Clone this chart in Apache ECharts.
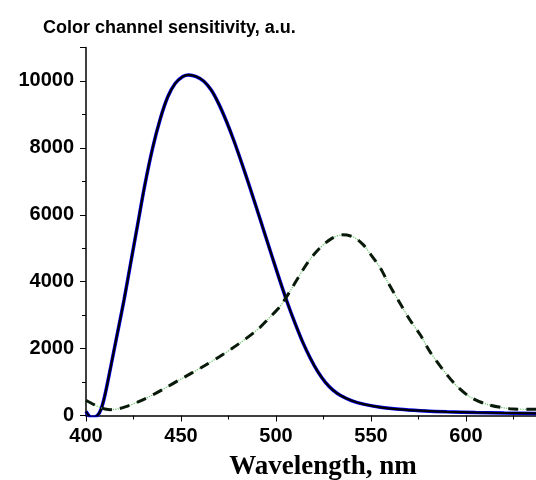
<!DOCTYPE html>
<html>
<head>
<meta charset="utf-8">
<script src="https://cdn.jsdelivr.net/npm/echarts@6/dist/echarts.min.js"></script>
<style>
    html, body { margin: 0; padding: 0; background: #fff; }
    #chart { width: 536px; height: 480px; }
</style>
</head>
<body>
<div id="chart"></div>
<script>
// blue channel
const blueWl = [400, 403, 406, 408, 410, 413, 416.5, 420, 423.5, 427, 431, 435, 439, 443, 447, 451, 454, 458, 462, 466, 470, 474, 478, 482, 486, 490, 494, 498, 502, 506, 510, 514, 518, 522, 526, 530, 534, 540, 546, 555, 565, 576, 590, 605, 620, 640]
const blueVal = [120, -60, 0, 200, 620, 1450, 2450, 3450, 4550, 5650, 6900, 7980, 8850, 9520, 9930, 10130, 10180, 10130, 9990, 9720, 9300, 8780, 8190, 7540, 6860, 6160, 5450, 4740, 4040, 3370, 2760, 2200, 1720, 1310, 990, 760, 600, 440, 340, 245, 185, 145, 110, 90, 75, 60]
// green channel
const greenWl = [400, 404, 407, 410, 413, 417, 421, 428, 435, 442, 449, 456, 463, 470, 477, 484, 491, 497, 502, 507, 512, 517, 523, 529, 535, 541, 546, 550, 555, 559, 564, 570, 576, 581, 588, 595, 602, 611, 623, 635, 640]
const greenVal = [455, 330, 250, 195, 175, 200, 263, 420, 613, 830, 1060, 1280, 1510, 1750, 2010, 2290, 2605, 2950, 3250, 3680, 4150, 4600, 5000, 5280, 5400, 5330, 5100, 4800, 4400, 3970, 3480, 2900, 2405, 1910, 1360, 890, 560, 335, 205, 185, 185]

const xTicks = [400, 450, 500, 550, 600]
const yTicks = [0, 2000, 4000, 6000, 8000, 10000]

const bluePts = blueWl.map((w, i) => [w, blueVal[i]])
const greenPts = greenWl.map((w, i) => [w, greenVal[i]])

const labelFont = {
    color: '#000',
    fontFamily: 'Arial, "Liberation Sans", sans-serif',
    fontWeight: 'bold',
    fontSize: 20
}

const option = {
    animation: false,
    title: {
        text: 'Color channel sensitivity, a.u.',
        left: 38,
        top: 14,
        textStyle: {
            color: '#000',
            fontFamily: 'Arial, "Liberation Sans", sans-serif',
            fontWeight: 'bold',
            fontSize: 18
        }
    },
    grid: {
        left: 86,
        right: -6,
        top: 47.5,
        bottom: 64.5,
        outerBoundsMode: 'none'
    },
    xAxis: {
        type: 'value',
        min: 400,
        max: 640,
        interval: 50,
        name: 'Wavelength, nm',
        nameLocation: 'middle',
        nameGap: 38,
        nameTextStyle: {
            color: '#000',
            fontFamily: '"Times New Roman", "Liberation Serif", serif',
            fontWeight: 'bold',
            fontSize: 27,
            padding: [0, 0, 0, 18]
        },
        axisLine: { lineStyle: { color: '#000', width: 1.5 } },
        axisTick: { show: true, length: 6, lineStyle: { color: '#000', width: 1 } },
        minorTick: { show: true, splitNumber: 2, length: 4, lineStyle: { color: '#000', width: 1 } },
        splitLine: { show: false },
        axisLabel: Object.assign({
            margin: 11,
            showMaxLabel: false,
            formatter: v => (xTicks.indexOf(v) >= 0 ? String(v) : '')
        }, labelFont)
    },
    yAxis: {
        type: 'value',
        min: 0,
        max: 11000,
        interval: 2000,
        axisLine: { show: true, lineStyle: { color: '#000', width: 1.5 } },
        axisTick: { show: true, length: 6, lineStyle: { color: '#000', width: 1 } },
        minorTick: { show: true, splitNumber: 2, length: 4, lineStyle: { color: '#000', width: 1 } },
        splitLine: { show: false },
        axisLabel: Object.assign({
            margin: 12,
            showMaxLabel: false,
            formatter: v => (yTicks.indexOf(v) >= 0 ? String(v) : '')
        }, labelFont)
    },
    series: [
        {
            type: 'line',
            data: bluePts,
            smooth: 0.3,
            symbol: 'none',
            clip: true,
            lineStyle: { color: '#0000ff', width: 3.5 }
        },
        {
            type: 'line',
            data: bluePts,
            smooth: 0.3,
            symbol: 'none',
            clip: true,
            lineStyle: { color: '#000', width: 2.2 }
        },
        {
            type: 'line',
            data: greenPts,
            smooth: 0.3,
            symbol: 'none',
            clip: true,
            lineStyle: { color: '#66c266', width: 1.2, type: 'dotted' }
        },
        {
            type: 'line',
            data: greenPts,
            smooth: 0.3,
            symbol: 'none',
            clip: true,
            lineStyle: { color: '#0a1a0a', width: 3, type: [10, 8] }
        }
    ]
}

const chart = echarts.init(document.getElementById('chart'))
chart.setOption(option)
</script>
</body>
</html>
